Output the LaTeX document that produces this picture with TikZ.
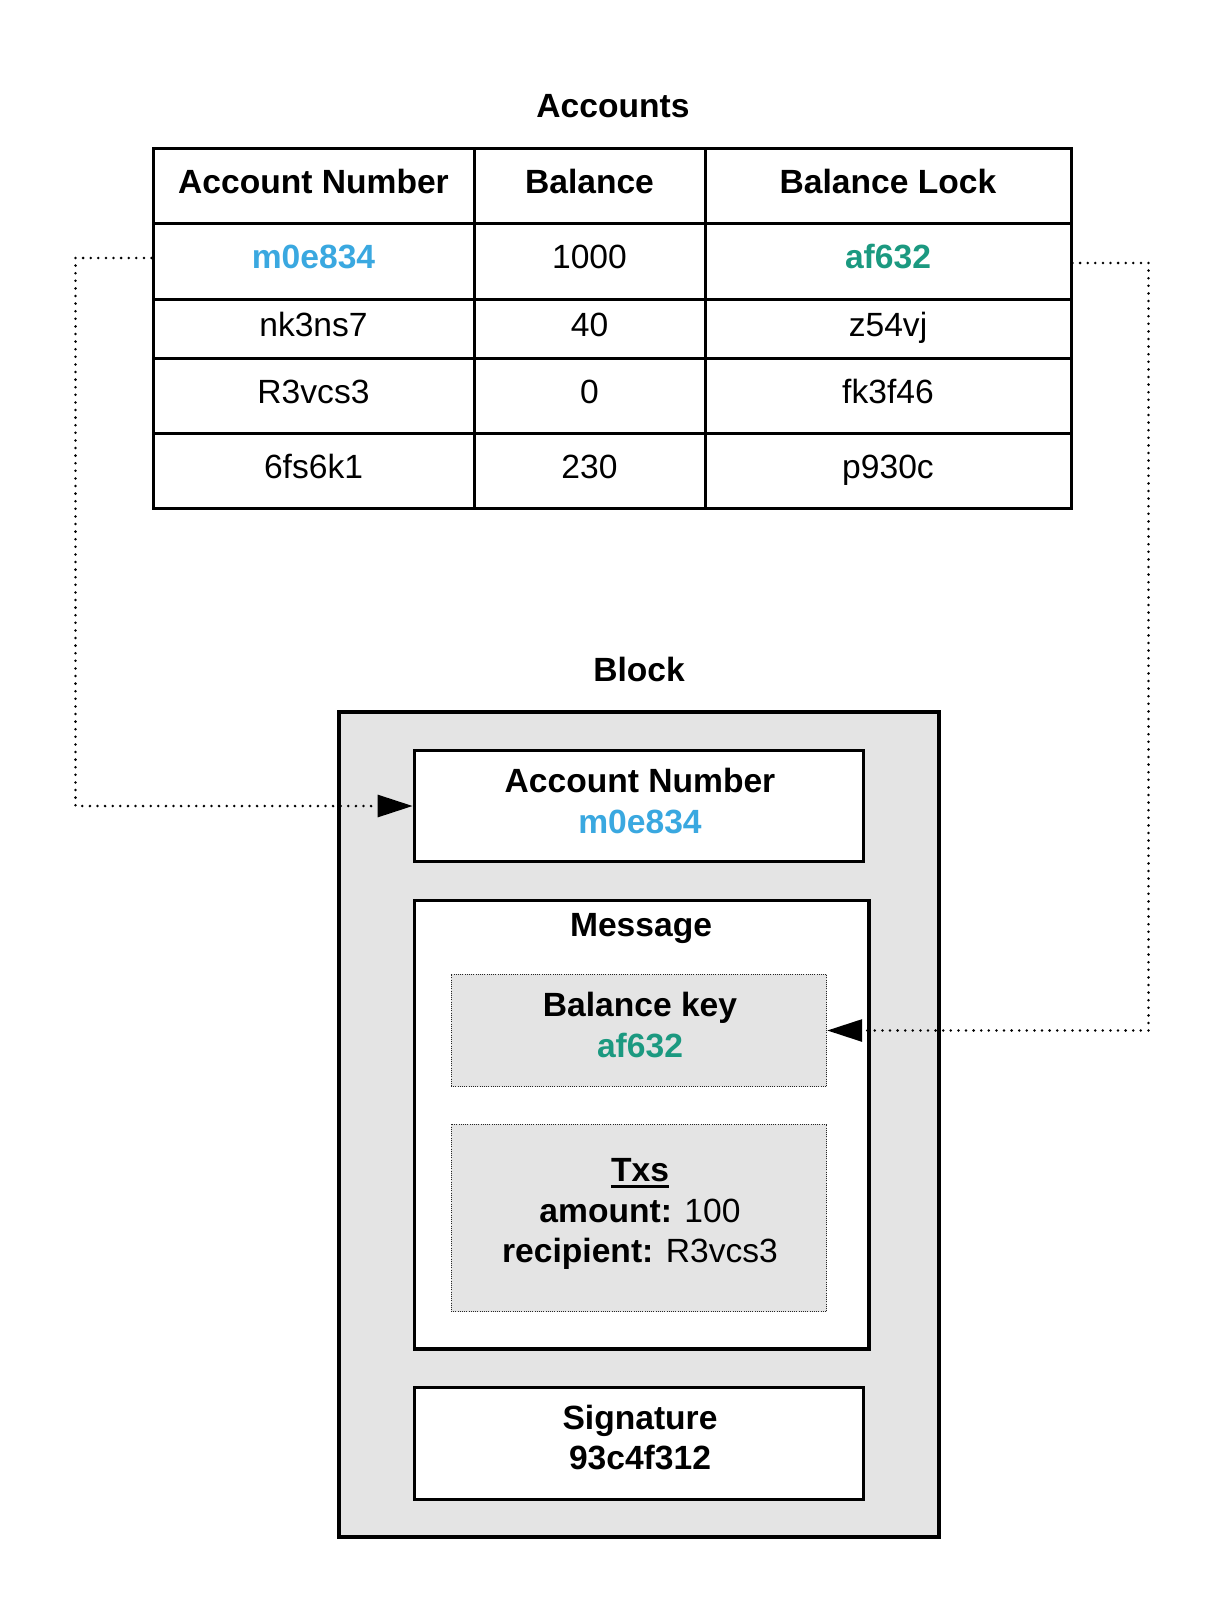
\documentclass[tikz,border=0pt]{standalone}
\usepackage{fontspec}
\setmainfont{Liberation Sans}
\usetikzlibrary{arrows.meta}
\definecolor{acblue}{RGB}{58,168,224}
\definecolor{acgreen}{RGB}{27,153,128}
\definecolor{blockgray}{RGB}{228,228,228}
\newcommand\myfs{\fontsize{33.6}{40}\selectfont}
\begin{document}
\begin{tikzpicture}[x=1pt,y=-1pt,
  cell/.style={draw, line width=3pt, inner sep=0pt, text height=15pt, text depth=0pt, font=\myfs},
  hcell/.style={cell, font=\myfs\bfseries},
  txt/.style={inner sep=0pt, anchor=base, font=\myfs},
  btxt/.style={txt, font=\myfs\bfseries},
  solidbox/.style={draw, line width=3.3pt, fill=white, inner sep=0pt},
  dotbox/.style={draw=black!85, line width=1pt, dash pattern=on 1pt off 1.2pt, fill=blockgray, inner sep=0pt},
  conn/.style={line width=2.8pt, line cap=round, dash pattern=on 0pt off 7.6pt, -{Triangle[length=35pt,width=22pt]}}
]
\useasboundingbox (0,0) rectangle (1224,1613);

% Titles
\node[btxt] (acctitle) at (613,118) {Accounts};
\node[btxt] (blocktitle) at (639,681) {Block};

% Table: columns 153,474,705,1071 ; rows 149,224,299,358,433,508
% header
\node[hcell, minimum width=321pt, minimum height=75pt] (h1) at (313.5,186.5) {Account Number};
\node[hcell, minimum width=231pt, minimum height=75pt] (h2) at (589.5,186.5) {Balance};
\node[hcell, minimum width=366pt, minimum height=75pt] (h3) at (888,186.5) {Balance Lock};
% row 1
\node[cell, minimum width=321pt, minimum height=75pt, text=acblue, font=\myfs\bfseries] (r1a) at (313.5,261.5) {m0e834};
\node[cell, minimum width=231pt, minimum height=75pt] (r1b) at (589.5,261.5) {1000};
\node[cell, minimum width=366pt, minimum height=75pt, text=acgreen, font=\myfs\bfseries] (r1c) at (888,261.5) {af632};
% row 2
\node[cell, minimum width=321pt, minimum height=59pt] (r2a) at (313.5,328.5) {nk3ns7};
\node[cell, minimum width=231pt, minimum height=59pt] (r2b) at (589.5,328.5) {40};
\node[cell, minimum width=366pt, minimum height=59pt] (r2c) at (888,328.5) {z54vj};
% row 3
\node[cell, minimum width=321pt, minimum height=75pt] (r3a) at (313.5,395.5) {R3vcs3};
\node[cell, minimum width=231pt, minimum height=75pt] (r3b) at (589.5,395.5) {0};
\node[cell, minimum width=366pt, minimum height=75pt] (r3c) at (888,395.5) {fk3f46};
% row 4
\node[cell, minimum width=321pt, minimum height=75pt] (r4a) at (313.5,470.5) {6fs6k1};
\node[cell, minimum width=231pt, minimum height=75pt] (r4b) at (589.5,470.5) {230};
\node[cell, minimum width=366pt, minimum height=75pt] (r4c) at (888,470.5) {p930c};

% Block
\node[draw, line width=4pt, fill=blockgray, inner sep=0pt, minimum width=599.4pt, minimum height=824.7pt] (block) at (639,1124.35) {};
\node[solidbox, minimum width=449.4pt, minimum height=111.4pt] (acct) at (639,806) {};
\node[solidbox, minimum width=454.7pt, minimum height=448.8pt] (msg) at (641.65,1124.6) {};
\node[dotbox, minimum width=375.7pt, minimum height=112.4pt] (bkey) at (638.85,1030.5) {};
\node[dotbox, minimum width=375.7pt, minimum height=187.7pt] (txsbox) at (638.85,1217.85) {};
\node[solidbox, minimum width=449.4pt, minimum height=112pt] (sig) at (639,1443.3) {};

% Block texts
\node[btxt] (acctl1) at (640,792) {Account Number};
\node[btxt, text=acblue] (acctl2) at (640,833) {m0e834};
\node[btxt] (msgl) at (641,936.5) {Message};
\node[btxt] (bkeyl1) at (640,1016.5) {Balance key};
\node[btxt, text=acgreen] (bkeyl2) at (640,1057) {af632};
\node[btxt] (txsl1) at (640,1181.7) {Txs};
\draw[line width=2.6pt] ([yshift=-4.6pt]txsl1.base west) -- ([yshift=-4.6pt]txsl1.base east);
\node[txt] (txsl2) at (640,1222.5) {\textbf{amount:} 100};
\node[txt] (txsl3) at (640,1262.5) {\textbf{recipient:} R3vcs3};
\node[btxt] (sigl1) at (640,1429) {Signature};
\node[btxt] (sigl2) at (640,1469) {93c4f312};

% Connectors
\draw[conn] ([yshift=3.5pt]r1a.west) -- ++(-76,0) |- (acct.west);
\draw[conn] ([yshift=-1.5pt]r1c.east) -- ++(76,0) |- (bkey.east);
\end{tikzpicture}
\end{document}
